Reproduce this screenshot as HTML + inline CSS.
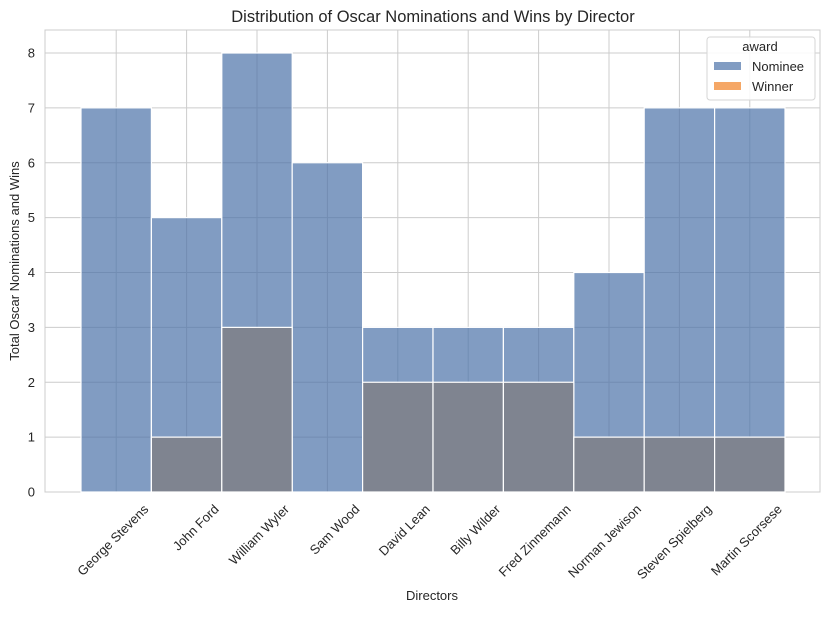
<!DOCTYPE html>
<html><head><meta charset="utf-8"><style>body{margin:0;background:#fff}svg{font-family:"Liberation Sans",Arial,sans-serif}</style></head>
<body>
<svg id="c" width="830" height="613"></svg>
<script>
const directors=["George Stevens","John Ford","William Wyler","Sam Wood","David Lean","Billy Wilder","Fred Zinnemann","Norman Jewison","Steven Spielberg","Martin Scorsese"];
const nominees=[7,5,8,6,3,3,3,4,7,7];
const winners=[0,1,3,0,2,2,2,1,1,1];
const yTicks=[0,1,2,3,4,5,6,7,8];
const NS="http://www.w3.org/2000/svg";
const svg=document.getElementById('c');
const L=45,R=820,T=30,B=492,bx0=81,bx1=785;
const bw=(bx1-bx0)/directors.length;
const y=v=>B-v*(B-53)/8;
const xc=i=>bx0+bw*(i+0.5);
function el(t,a,p){const e=document.createElementNS(NS,t);for(const k in a)e.setAttribute(k,a[k]);(p||svg).appendChild(e);return e;}
const fr=el('rect',{x:L,y:T,width:R-L,height:B-T,fill:'#fff',stroke:'#cccccc','stroke-width':1});


yTicks.forEach(v=>{
 const g=el('line',{x1:L,x2:R,y1:y(v),y2:y(v),stroke:'#cccccc'});
 
 
 const t=el('text',{x:L-10,y:y(v)+4.5,'text-anchor':'end','font-size':13,fill:'#262626'});
 t.textContent=v;
 
 
});
directors.forEach((d,i)=>{
 const g=el('line',{x1:xc(i),x2:xc(i),y1:T,y2:B,stroke:'#cccccc'});
 
 
});
directors.forEach((d,i)=>{
 const r=el('rect',{x:bx0+bw*i,y:y(nominees[i]),width:bw,height:B-y(nominees[i]),fill:'#4c72a8','fill-opacity':0.7,stroke:'#fff','stroke-width':1.2});
 
 
});
directors.forEach((d,i)=>{
 if(winners[i]<=0)return;
 const r=el('rect',{x:bx0+bw*i,y:y(winners[i]),width:bw,height:B-y(winners[i]),fill:'#7f8490',stroke:'#fff','stroke-width':1.2});
 
 
});
directors.forEach((d,i)=>{
 const ex=xc(i)+33,ey=510;
 const t=el('text',{x:ex,y:ey,'text-anchor':'end','font-size':13,fill:'#262626',transform:`rotate(-45 ${ex} ${ey})`});
 t.textContent=d;
 
 
});
</script>
<svg style="position:absolute;left:0;top:0" width="830" height="613">
<text x="433" y="22" text-anchor="middle" font-size="16.5" fill="#262626">Distribution of Oscar Nominations and Wins by Director</text>
<text x="432" y="600" text-anchor="middle" font-size="13" fill="#262626">Directors</text>
<text x="19" y="261" text-anchor="middle" font-size="13" fill="#262626" transform="rotate(-90 19 261)">Total Oscar Nominations and Wins</text>
<g>
<rect x="707" y="37" width="108" height="63" rx="3" fill="#fff" fill-opacity="0.85" stroke="#d6d6d6"/>
<text x="760" y="51" text-anchor="middle" font-size="13" fill="#262626">award</text>
<rect x="714" y="62" width="27" height="8" fill="#4c72a8" fill-opacity="0.7"/>
<text x="752" y="71" font-size="13" fill="#262626">Nominee</text>
<rect x="714" y="82" width="27" height="8" fill="#f5a766"/>
<text x="752" y="91" font-size="13" fill="#262626">Winner</text>
</g>
</svg>
</body></html>
